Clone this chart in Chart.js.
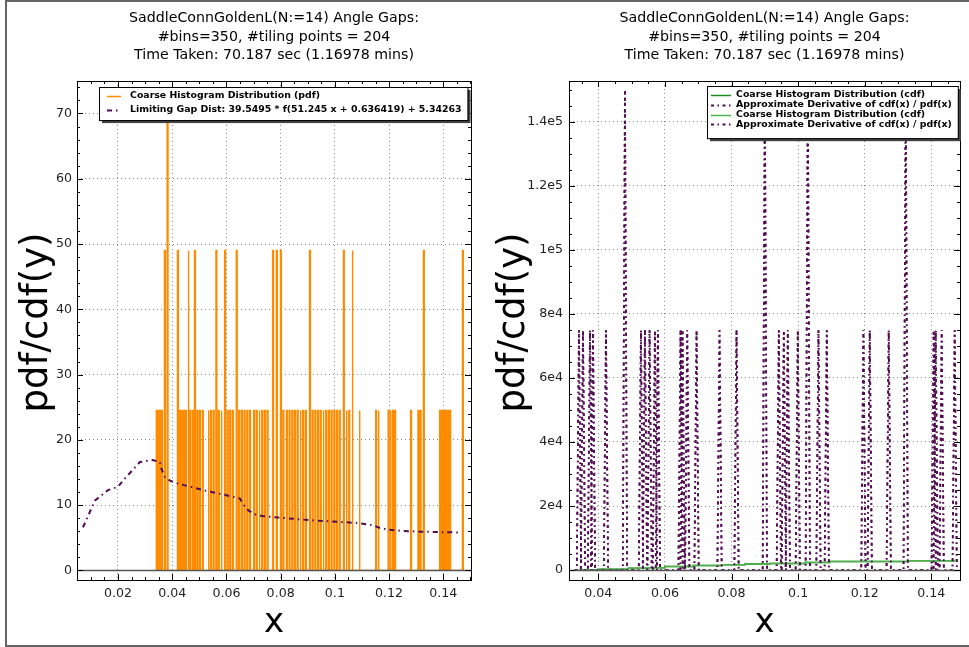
<!DOCTYPE html>
<html><head><meta charset="utf-8">
<script src="https://cdn.jsdelivr.net/npm/chart.js@4.4.0/dist/chart.umd.min.js"></script>
<style>
html,body{margin:0;padding:0;background:#fff;}
#wrap{position:relative;width:969px;height:647px;overflow:hidden;background:#fff;}
#frame{position:absolute;left:5px;top:0px;width:1000px;height:647px;border:2px solid #666;box-sizing:border-box;}
canvas{position:absolute;top:0;}
</style></head><body>
<div id="wrap">
<div id="frame"></div>
<canvas id="c1" width="485" height="647" style="left:0"></canvas>
<canvas id="c2" width="484" height="647" style="left:485px"></canvas>
</div>
<script>
// ---------------- DATA ----------------
const titleLines = ['SaddleConnGoldenL(N:=14) Angle Gaps:', '#bins=350, #tiling points = 204', 'Time Taken: 70.187 sec (1.16978 mins)'];

// Left panel: coarse histogram (pdf) -- non-empty bins (centre x) and their heights
const pdfBinWidth = 0.000322;
const pdfBinX = [0.0343,0.0349,0.0356,0.0362,0.0373,0.0383,0.0421,0.0429,0.0436,0.0443,0.0451,0.0460,0.0467,0.0477,0.0484,0.0493,0.0502,0.0513,
 0.0534,0.0543,0.0553,0.0563,0.0572,0.0582,0.0595,0.0605,0.0614,0.0624,0.0638,0.0647,0.0657,0.0667,0.0677,0.0687,
 0.0702,0.0712,0.0722,0.0732,0.0742,0.0752,0.0772,0.0786,0.0801,0.0810,
 0.0823,0.0833,0.0843,0.0853,0.0863,0.0873,0.0883,0.0893,0.0908,0.0918,0.0928,0.0938,0.0948,0.0958,0.0968,0.0978,0.0988,0.0998,0.1008,0.1018,0.1033,0.1043,0.1053,0.1065,0.1091,
 0.1152,0.1161,0.1198,0.1205,0.1214,0.1222,0.1281,0.1308,0.1316,0.1328,0.1388,0.1395,0.1403,0.1410,0.1417,0.1425,0.1472];
const pdfBinY = [24.5,24.5,24.5,24.5,49,73.5,49,24.5,24.5,24.5,24.5,49,24.5,24.5,49,24.5,24.5,24.5,
 24.5,24.5,24.5,49,24.5,24.5,49,24.5,24.5,24.5,49,24.5,24.5,24.5,24.5,24.5,
 24.5,24.5,24.5,24.5,24.5,24.5,49,49,49,24.5,
 24.5,24.5,24.5,24.5,24.5,24.5,24.5,24.5,49,24.5,24.5,24.5,24.5,24.5,24.5,24.5,24.5,24.5,24.5,24.5,49,24.5,24.5,49,24.5,
 24.5,24.5,24.5,24.5,24.5,24.5,24.5,24.5,24.5,49,24.5,24.5,24.5,24.5,24.5,24.5,49];

// Left panel: limiting gap distribution curve
const gapX = [0.0071,0.0115,0.0163,0.0200,0.0226,0.0281,0.0328,0.0355,0.0361,0.0373,0.0394,0.0422,0.0478,0.0533,0.0591,0.0621,0.0650,0.0662,0.0681,0.0706,0.0736,0.0791,0.0849,0.0906,0.1025,0.1083,0.1142,0.1166,0.1195,0.1252,0.1314,0.1369,0.1428,0.1458];
const gapY = [6.6,10.7,12.3,12.8,14.1,16.6,16.9,16.6,15.5,14.3,13.7,13.3,12.7,12.1,11.6,11.3,11.0,10.1,9.2,8.6,8.3,8.1,7.9,7.7,7.4,7.27,6.9,6.5,6.25,6.04,5.94,5.88,5.84,5.8];

// Right panel: cdf steps (x where the step lands, new value)
const cdfX = [0.0343,0.0400,0.0490,0.0550,0.0600,0.0685,0.0770,0.0840,0.0915,0.1020,0.1095,0.1330,0.1470];
const cdfY = [30,220,530,720,1150,1460,1650,1870,2090,2400,2710,2900,3020];

// Right panel: approximate derivative spikes (x, height)
const derivX = [0.0342,0.0354,0.0375,0.0384,0.0423,0.0480,0.0528,0.0540,0.0554,0.0570,0.0579,0.0647,0.0653,0.0667,0.0695,0.0764,0.0815,0.0900,0.0942,0.0957,0.0969,0.0999,0.1029,0.1061,0.1086,0.1196,0.1215,0.1272,0.1323,0.1407,0.1413,0.1431,0.1470];
const derivY = [74900,74900,74900,74900,74900,149800,74900,74900,74900,74900,74900,74900,74900,74900,74900,74900,74900,149800,74900,74900,74900,74900,149800,74900,74900,74900,74900,74900,149800,74900,74900,74900,74900];
const derivHalfWidth = 0.00065;

// Axes
const leftXTicks = [0.02,0.04,0.06,0.08,0.10,0.12,0.14];
const leftXLabels = ['0.02','0.04','0.06','0.08','0.1','0.12','0.14'];
const leftYTicks = [0,10,20,30,40,50,60,70];
const leftYLabels = ['0','10','20','30','40','50','60','70'];
const rightXTicks = [0.04,0.06,0.08,0.10,0.12,0.14];
const rightXLabels = ['0.04','0.06','0.08','0.1','0.12','0.14'];
const rightYTicks = [0,20000,40000,60000,80000,100000,120000,140000];
const rightYLabels = ['0','2e4','4e4','6e4','8e4','1e5','1.2e5','1.4e5'];

// ---------------- STYLE ----------------
const ORANGE = '#ff8c00';
const PURPLE = '#520c52';
const GREEN1 = '#1c8a1c';
const GREEN2 = '#4cb04c';
const FONT = '"DejaVu Sans", "Liberation Sans", sans-serif';
const DASHDOT_CURVE = [5, 4, 1.5, 4];
const DASHDOT_SPIKE = [3, 3.5, 1.5, 3.5];

// ---------------- BUILD ----------------
function histPoints() {
  const pts = [];
  const h = pdfBinWidth / 2;
  pts.push({x: pdfBinX[0] - h, y: 0});
  for (let i = 0; i < pdfBinX.length; i++) {
    const l = pdfBinX[i] - h, r = pdfBinX[i] + h;
    pts.push({x: l, y: 0}, {x: l, y: pdfBinY[i]}, {x: r, y: pdfBinY[i]}, {x: r, y: 0});
  }
  return pts;
}
function derivPoints() {
  const pts = [{x: derivX[0] - 2*derivHalfWidth, y: 0}];
  for (let i = 0; i < derivX.length; i++) {
    pts.push({x: derivX[i] - derivHalfWidth, y: 0}, {x: derivX[i], y: derivY[i]}, {x: derivX[i] + derivHalfWidth, y: 0});
  }
  return pts;
}
const zip = (xs, ys) => xs.map((x, i) => ({x, y: ys[i]}));

function mplPlugin(o) {
  return {
    id: 'mpl',
    afterDatasetsDraw(chart) {
      const {ctx, chartArea: a, scales: {x, y}} = chart;
      ctx.save();
      const y0 = Math.round(y.getPixelForValue(0)) + 0.5;
      ctx.strokeStyle = '#555'; ctx.lineWidth = 1.5;
      ctx.beginPath(); ctx.moveTo(a.left, y0); ctx.lineTo(a.right, y0); ctx.stroke();
      ctx.strokeStyle = '#000'; ctx.lineWidth = 1;
      ctx.strokeRect(Math.round(a.left) + 0.5, Math.round(a.top) + 0.5, Math.round(a.right - a.left), Math.round(a.bottom - a.top));
      ctx.beginPath();
      const tickX = (v, len) => { const px = Math.round(x.getPixelForValue(v)) + 0.5; ctx.moveTo(px, a.bottom); ctx.lineTo(px, a.bottom - len); ctx.moveTo(px, a.top); ctx.lineTo(px, a.top + len); };
      const tickY = (v, len) => { const py = Math.round(y.getPixelForValue(v)) + 0.5; ctx.moveTo(a.left, py); ctx.lineTo(a.left + len, py); ctx.moveTo(a.right, py); ctx.lineTo(a.right - len, py); };
      o.xTicks.forEach(v => tickX(v, 6));
      o.yTicks.forEach(v => tickY(v, 6));
      for (let v = Math.ceil(x.min / o.xMinor) * o.xMinor; v <= x.max; v += o.xMinor) {
        if (!o.xTicks.some(t => Math.abs(t - v) < o.xMinor / 10)) tickX(v, 3);
      }
      for (let v = Math.ceil(y.min / o.yMinor) * o.yMinor; v <= y.max; v += o.yMinor) {
        if (!o.yTicks.some(t => Math.abs(t - v) < o.yMinor / 10)) tickY(v, 3);
      }
      ctx.stroke();
      ctx.restore();
    },
    afterDraw(chart) {
      const {ctx, chartArea: a} = chart;
      ctx.save();
      ctx.fillStyle = '#000';
      ctx.textAlign = 'center'; ctx.textBaseline = 'middle';
      ctx.font = '14.2px ' + FONT;
      const cx = (a.left + a.right) / 2;
      titleLines.forEach((t, i) => ctx.fillText(t, cx, 18.5 + i * 18.5));
      ctx.textBaseline = 'alphabetic';
      ctx.font = '34px ' + FONT;
      ctx.fillText('x', cx, 631.5);
      ctx.save();
      ctx.font = '37px ' + FONT;
      ctx.translate(o.yTitleX, (a.top + a.bottom) / 2 - 8);
      ctx.rotate(-Math.PI / 2);
      ctx.fillText('pdf/cdf(y)', 0, 0);
      ctx.restore();
      const L = o.legend;
      ctx.font = 'bold 9.4px ' + FONT;
      const items = chart.data.datasets;
      const maxW = Math.max(...items.map(d => ctx.measureText(d.label).width));
      const w = L.textOff + maxW + 6;
      const h = L.padT + items.length * L.rowH + L.padB;
      const bx = Math.round(a.right - L.marginR - w), by = Math.round(a.top + L.marginT);
      ctx.fillStyle = '#444'; ctx.fillRect(bx + 3, by + 3, w, h);
      ctx.fillStyle = '#fff'; ctx.fillRect(bx, by, w, h);
      ctx.strokeStyle = '#000'; ctx.lineWidth = 1; ctx.strokeRect(bx + 0.5, by + 0.5, w, h);
      ctx.textAlign = 'left'; ctx.textBaseline = 'middle';
      items.forEach((d, i) => {
        const cy = by + L.padT + (i + 0.5) * L.rowH;
        ctx.strokeStyle = d.borderColor; ctx.lineWidth = Math.max(1.5, d.borderWidth);
        ctx.setLineDash(d.borderDash || []);
        ctx.beginPath(); ctx.moveTo(bx + L.lineX0, Math.round(cy) + 0.5); ctx.lineTo(bx + L.lineX1, Math.round(cy) + 0.5); ctx.stroke();
        ctx.setLineDash([]);
        ctx.fillStyle = '#000';
        ctx.fillText(d.label, bx + L.textOff, cy);
      });
      ctx.restore();
    }
  };
}

function axis(min, max, ticks, labels, pad, size, isX) {
  return {
    type: 'linear', min, max,
    afterBuildTicks: s => { s.ticks = ticks.map(v => ({value: v})); },
    afterFit: s => { if (isX) s.height = size; else s.width = size; },
    ticks: {
      autoSkip: false, maxRotation: 0, padding: pad, color: '#222',
      font: {family: FONT, size: 12.6},
      callback: (v) => { const i = ticks.findIndex(t => Math.abs(t - v) < 1e-9); return i >= 0 ? labels[i] : ''; }
    },
    grid: {color: '#8a8a8a', lineWidth: 1, drawTicks: false},
    border: {display: false, dash: [1, 3]}
  };
}

const common = {
  responsive: false, animation: false, events: [],
  plugins: {legend: {display: false}, title: {display: false}, tooltip: {enabled: false}},
  elements: {point: {radius: 0}, line: {tension: 0}}
};

new Chart(document.getElementById('c1'), {
  type: 'line',
  data: {datasets: [
    {label: 'Coarse Histogram Distribution (pdf)', data: histPoints(), borderColor: ORANGE, borderWidth: 1.4, pointRadius: 0, fill: false, order: 2},
    {label: 'Limiting Gap Dist: 39.5495 * f(51.245 x + 0.636419) + 5.34263', data: zip(gapX, gapY), borderColor: PURPLE, borderWidth: 2, borderDash: DASHDOT_CURVE, pointRadius: 0, fill: false, order: 1}
  ]},
  options: Object.assign({}, common, {
    layout: {padding: {left: 27, top: 81, right: 14, bottom: 27}},
    scales: {
      x: axis(0.0049, 0.1502, leftXTicks, leftXLabels, 6, 40, true),
      y: axis(-1.47, 74.97, leftYTicks, leftYLabels, 5, 50, false)
    }
  }),
  plugins: [mplPlugin({xTicks: leftXTicks, yTicks: leftYTicks, xMinor: 0.005, yMinor: 2, yTitleX: 47,
    legend: {marginR: 3.5, marginT: 6, padT: 1.5, padB: 3, rowH: 14.3, lineX0: 8, lineX1: 22, textOff: 31}})]
});

new Chart(document.getElementById('c2'), {
  type: 'line',
  data: {datasets: [
    {label: 'Coarse Histogram Distribution (cdf)', data: zip(cdfX, cdfY), borderColor: GREEN1, borderWidth: 1.5, stepped: true, pointRadius: 0, fill: false, order: 4},
    {label: 'Approximate Derivative of cdf(x) / pdf(x)', data: derivPoints(), borderColor: PURPLE, borderWidth: 1.8, borderDash: DASHDOT_SPIKE, pointRadius: 0, fill: false, order: 3},
    {label: 'Coarse Histogram Distribution (cdf)', data: zip(cdfX, cdfY), borderColor: GREEN2, borderWidth: 1.5, stepped: true, pointRadius: 0, fill: false, order: 2},
    {label: 'Approximate Derivative of cdf(x) / pdf(x)', data: derivPoints(), borderColor: PURPLE, borderWidth: 1.8, borderDash: DASHDOT_SPIKE, pointRadius: 0, fill: false, order: 1}
  ]},
  options: Object.assign({}, common, {
    layout: {padding: {left: 24, top: 81, right: 9, bottom: 27}},
    scales: {
      x: axis(0.0312, 0.1486, rightXTicks, rightXLabels, 6, 40, true),
      y: axis(-3100, 152700, rightYTicks, rightYLabels, 6, 60, false)
    }
  }),
  plugins: [mplPlugin({xTicks: rightXTicks, yTicks: rightYTicks, xMinor: 0.005, yMinor: 5000, yTitleX: 39,
    legend: {marginR: 2.5, marginT: 5, padT: 4, padB: 9, rowH: 9.8, lineX0: 4, lineX1: 24, textOff: 29}})]
});
</script>
</body></html>
